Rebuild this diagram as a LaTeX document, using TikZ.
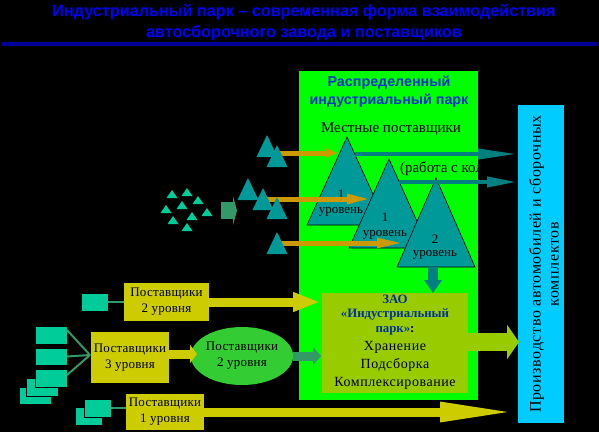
\documentclass[tikz,border=0pt]{standalone}
\usepackage{fontspec}
\setmainfont{Liberation Serif}
\newfontfamily\arialf{Liberation Sans}
\newfontfamily\lsp[LetterSpace=4]{Liberation Serif}
\newfontfamily\lspb[LetterSpace=2]{Liberation Serif}
\usetikzlibrary{arrows.meta,shapes.geometric}
\definecolor{titleblue}{HTML}{0000FF}
\definecolor{rulec}{HTML}{000099}
\definecolor{parkg}{HTML}{00FF00}
\definecolor{ptblue}{HTML}{0033CC}
\definecolor{tealt}{HTML}{009999}
\definecolor{teala}{HTML}{008080}
\definecolor{goldc}{HTML}{CC9900}
\definecolor{mint}{HTML}{00CC99}
\definecolor{dgreen}{HTML}{339966}
\definecolor{yel}{HTML}{CCCC00}
\definecolor{zaoc}{HTML}{99CC00}
\definecolor{ellc}{HTML}{33CC33}
\definecolor{prodc}{HTML}{00CCFF}
\definecolor{zaob}{HTML}{003399}
\begin{document}
\begin{tikzpicture}[x=1pt,y=-1pt,
  every node/.style={inner sep=0pt,outer sep=0pt},
  txt/.style={font=\lspb\fontsize{13}{16}\selectfont,align=center,text=black},
  ybox/.style={fill=yel,txt},
  mintbox/.style={fill=mint,draw=black,line width=0.6pt},
  conn/.style={draw=dgreen,line width=2pt},
  tri/.style={fill=tealt,draw=black,line width=0.6pt},
  otri/.style={fill=tealt},
  goldarrow/.style={draw=goldc,line width=5pt,-{Triangle[length=#1,width=9pt]}},
  tealarrow/.style={draw=teala,line width=4pt,-{Triangle[length=#1,width=10pt]}},
  trilabel/.style={font=\fontsize{13}{15}\selectfont,text=black}]
\fill[black] (0,0) rectangle (599,432);
\useasboundingbox (0,0) rectangle (599,432);
% title
\node[font=\arialf\bfseries\fontsize{16.2}{21}\selectfont,text=titleblue,align=center] (title) at (304,23)
  {Индустриальный парк – современная форма взаимодействия\\автосборочного завода и поставщиков};
\draw[rulec,line width=4pt] (2,43.5) -- (597,43.5);
% park
\node[fill=parkg,minimum width=179pt,minimum height=329pt] (park) at (388.5,235.5) {};
\node[font=\arialf\bfseries\fontsize{14.3}{18}\selectfont,text=ptblue,align=center] (ptitle) at (389,92)
  {Распределенный\\индустриальный парк};
\node[font=\fontsize{15}{18}\selectfont] (local) at (391,129) {Местные поставщики};
\coordinate (g1s) at (277,153); \coordinate (g1e) at (338,153);
\coordinate (g2s) at (263,199); \coordinate (g2e) at (372,199);
\coordinate (g3s) at (277,243); \coordinate (g3e) at (405,243);
% park triangles
\filldraw[tri] (347,137) -- (307,225) -- (387,225) -- cycle;
\node[trilabel] (t1a) at (341,194) {1};
\node[trilabel] (t1b) at (341,212) {уровень};
\filldraw[tri] (389,159) -- (349,248) -- (429,248) -- cycle;
\node[trilabel] (t2a) at (385,217) {1};
\node[trilabel] (t2b) at (385,235) {уровень};
\filldraw[tri] (436,178) -- (397,267) -- (475,267) -- cycle;
\node[trilabel] (t3a) at (435,239) {2};
\node[trilabel] (t3b) at (435,255) {уровень};
\begin{scope}
\clip (299,71) rectangle (477,400);
\node[font=\fontsize{15}{18}\selectfont,anchor=west] (work) at (400,169) {(работа с колесами)};
\end{scope}
% gold arrows
\draw[goldarrow=13pt] (g1s) -- (g1e);
\draw[goldarrow=25pt] (g2s) -- (g2e);
\draw[goldarrow=28pt] (g3s) -- (g3e);
% outside triangles
\foreach \ax/\ay in {267/135,277/145,248/178,263/188,277/197,277/232}
  \fill[otri] (\ax,\ay) -- ++(-10.5,22) -- ++(21,0) -- cycle;
% small mint triangles
\foreach \ax/\ay in {172/190,187/188,198/196,182/201,166/205,207/208,192/212,173/216,187/223}
  \fill[mint] (\ax,\ay) -- ++(-5.5,8) -- ++(11,0) -- cycle;
\coordinate (ga) at (221,210.5); \coordinate (gb) at (237,210.5);
\draw[dgreen,line width=17pt,-{Triangle[length=4pt,width=29pt]}] (ga) -- (gb);
% production box
\node[fill=prodc,minimum width=46pt,minimum height=318pt] (prod) at (541,264) {};
\node[rotate=90,font=\lsp\fontsize{16}{18}\selectfont,align=center] (prodt) at (544,264)
  {Производство автомобилей и сборочных\\комплектов};
% teal arrows
\coordinate (b1s) at (355,154); \coordinate (b1e) at (517,154);
\coordinate (b2s) at (399,182); \coordinate (b2e) at (517,182);
\draw[tealarrow=39pt] (b1s) -- (b1e);
\draw[tealarrow=30pt] (b2s) -- (b2e);
% ZAO box
\node[fill=zaoc,minimum width=146pt,minimum height=100pt] (zao) at (395,343) {};
\coordinate (dn1) at (433,267);
\draw[teala,line width=10pt,-{Triangle[length=13pt,width=17pt]}] (dn1) -- (dn1 |- zao.north);
\node[font=\bfseries\fontsize{12.8}{14.5}\selectfont,text=zaob,align=center] (zaot) at (395,315)
  {ЗАО\\«Индустриальный\\парк»\textcolor{black}{:}};
\node[font=\lsp\fontsize{14}{18}\selectfont,align=center] (zaol) at (395,365)
  {Хранение\\Подсборка\\Комплексирование};
\coordinate (zt) at (519,342);
\draw[zaoc,line width=18pt,-{Triangle[length=12pt,width=34pt]}] (zao.east |- zt) -- (zt);
% bottom left
\node[ybox,minimum width=85pt,minimum height=38pt] (s2) at (166.5,302) {Поставщики\\2 уровня};
\node[mintbox,minimum width=27pt,minimum height=18pt] (m2) at (94.5,302) {};
\draw[conn] (m2.east) -- (s2.west |- m2.east);
\coordinate (c1) at (320,302);
\draw[yel,line width=9pt,-{Triangle[length=27pt,width=18pt]}] (s2.east) -- (c1);

\node[ybox,minimum width=78pt,minimum height=51pt] (s3) at (130,357.5) {Поставщики\\3 уровня};
\node[mintbox,minimum width=32pt,minimum height=17pt] (r5) at (35,395.5) {};
\node[mintbox,minimum width=32pt,minimum height=18pt] (r4) at (42,387) {};
\node[mintbox,minimum width=32pt,minimum height=18pt] (r3) at (51,378) {};
\node[mintbox,minimum width=32pt,minimum height=17pt] (r2) at (51,356.5) {};
\node[mintbox,minimum width=32pt,minimum height=18pt] (r1) at (51,335) {};
\coordinate (s3in) at (90,355);
\draw[conn] (r1.north east) ++(0,4) -- (s3in);
\draw[conn] (r2.east) -- (s3in);
\draw[conn] (r3.north east) ++(0,6) -- (s3in);
\node[ellipse,fill=ellc,minimum width=88pt,minimum height=58pt,txt] (ell) at (242,356) {Поставщики\\2 уровня};
\coordinate (c2) at (197,354);
\draw[yel,line width=9pt,-{Triangle[length=7pt,width=18pt]}] (s3.east |- c2) -- (c2);
\coordinate (c3) at (321,356);
\draw[dgreen,line width=9pt,-{Triangle[length=8pt,width=18pt]}] (ell.east) -- (c3);

\node[ybox,minimum width=78pt,minimum height=36pt] (s1) at (165,412) {Поставщики\\1 уровня};
\node[mintbox,minimum width=27pt,minimum height=18pt] (m1b) at (88.5,416) {};
\node[mintbox,minimum width=27pt,minimum height=18pt] (m1) at (97.5,408) {};
\draw[conn] (m1.east) -- (m1.east -| s1.west);
\coordinate (c4) at (517,412);
\draw[yel,line width=9pt,-{Triangle[length=77pt,width=18pt]}] (s1.east) -- (c4);
\end{tikzpicture}
\end{document}
